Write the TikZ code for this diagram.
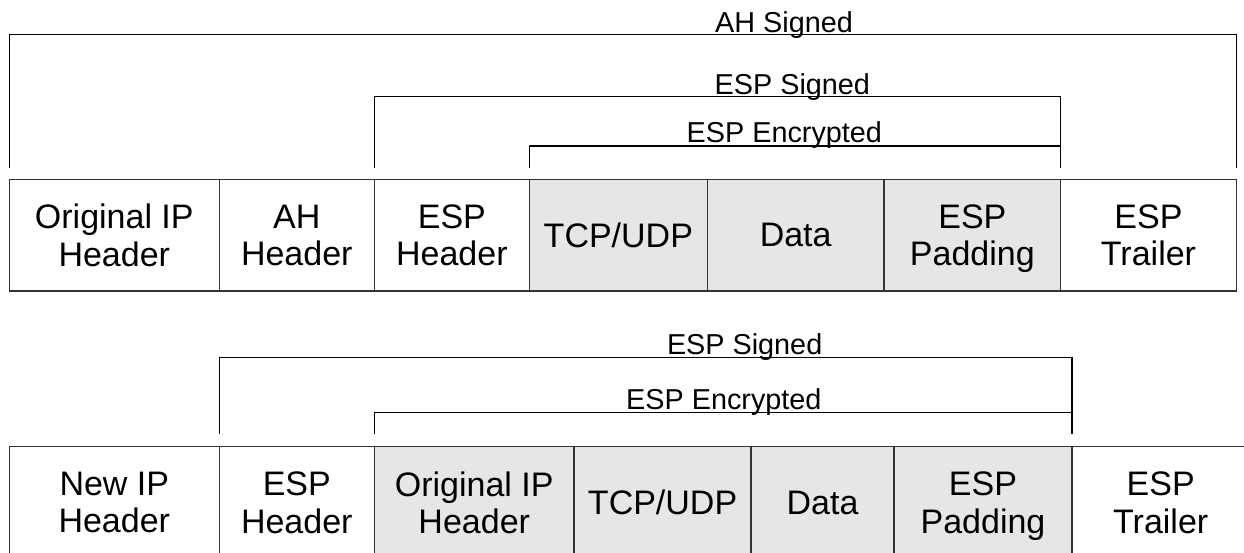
\documentclass[tikz,border=0pt]{standalone}
\usepackage{fontspec}
\setmainfont{Liberation Sans}
\definecolor{cellgray}{HTML}{E6E6E6}
\definecolor{lineclr}{HTML}{333333}
\begin{document}
\begin{tikzpicture}[x=1pt,y=-1pt,
  cell/.style={draw=lineclr,line width=1.5pt,minimum width=#1,minimum height=111.5pt,
    inner sep=0pt,outer sep=0pt,anchor=north west,align=center,text depth=0pt,
    font=\fontsize{34}{37.5}\selectfont},
  shaded/.style={fill=cellgray},
  bracket/.style={draw=black,line width=1.2pt},
  lbl/.style={anchor=base west,inner sep=0pt,font=\fontsize{28.8}{30}\selectfont}]
\useasboundingbox (0,0) rectangle (1244,552);
\clip (0,0) rectangle (1244,552);

% top packet
\node[cell=210pt] (t1) at (9.3,179.5) {Original IP\\Header};
\node[cell=155pt] (t2) at (219.3,179.5) {AH\\Header};
\node[cell=155.1pt] (t3) at (374.3,179.5) {ESP\\Header};
\node[cell=177.9pt,shaded] (t4) at (529.4,179.5) {TCP/UDP};
\node[cell=176.7pt,shaded] (t5) at (707.3,179.5) {Data};
\node[cell=176.7pt,shaded] (t6) at (884,179.5) {ESP\\Padding};
\node[cell=175.6pt] (t7) at (1060.7,179.5) {ESP\\Trailer};

% bottom packet
\node[cell=210pt] (b1) at (9.3,446.7) {New IP\\Header};
\node[cell=155pt] (b2) at (219.3,446.7) {ESP\\Header};
\node[cell=199.9pt,shaded] (b3) at (374.3,446.7) {Original IP\\Header};
\node[cell=176.8pt,shaded] (b4) at (574.2,446.7) {TCP/UDP};
\node[cell=143pt,shaded] (b5) at (751,446.7) {Data};
\node[cell=178pt,shaded] (b6) at (894,446.7) {ESP\\Padding};
\node[cell=177.4pt] (b7) at (1072,446.7) {ESP\\Trailer};

% brackets, top
\coordinate (ahL) at ([yshift=11.2pt]t1.north west);
\coordinate (ahR) at ([yshift=11.2pt]t7.north east);
\coordinate (esL) at ([yshift=11.2pt]t3.north west);
\coordinate (eeL) at ([yshift=11.2pt]t4.north west);
\coordinate (eR)  at ([yshift=11.2pt]t6.north east);
\draw[bracket] (ahL) -- ++(0,-133.8) -| (ahR);
\draw[bracket] (esL) -- ++(0,-71.6) -| (eR);
\draw[bracket] (eeL) -- ++(0,-22.3) -| (eR);

% brackets, bottom
\coordinate (bsL) at ([yshift=13.2pt]b2.north west);
\coordinate (beL) at ([yshift=13.2pt]b3.north west);
\coordinate (bR)  at ([yshift=13.2pt]b6.north east);
\draw[bracket] (bsL) -- ++(0,-75.8) -| (bR);
\draw[bracket] (beL) -- ++(0,-20.8) -| (bR);

% labels
\node[lbl] (lah)  at (715,32.3)   {AH Signed};
\node[lbl] (ls1)  at (714.5,94.5) {ESP Signed};
\node[lbl] (le1)  at (686.5,142.8){ESP Encrypted};
\node[lbl] (ls2)  at (666.8,354.5){ESP Signed};
\node[lbl] (le2)  at (626,409.5)  {ESP Encrypted};
\end{tikzpicture}
\end{document}
